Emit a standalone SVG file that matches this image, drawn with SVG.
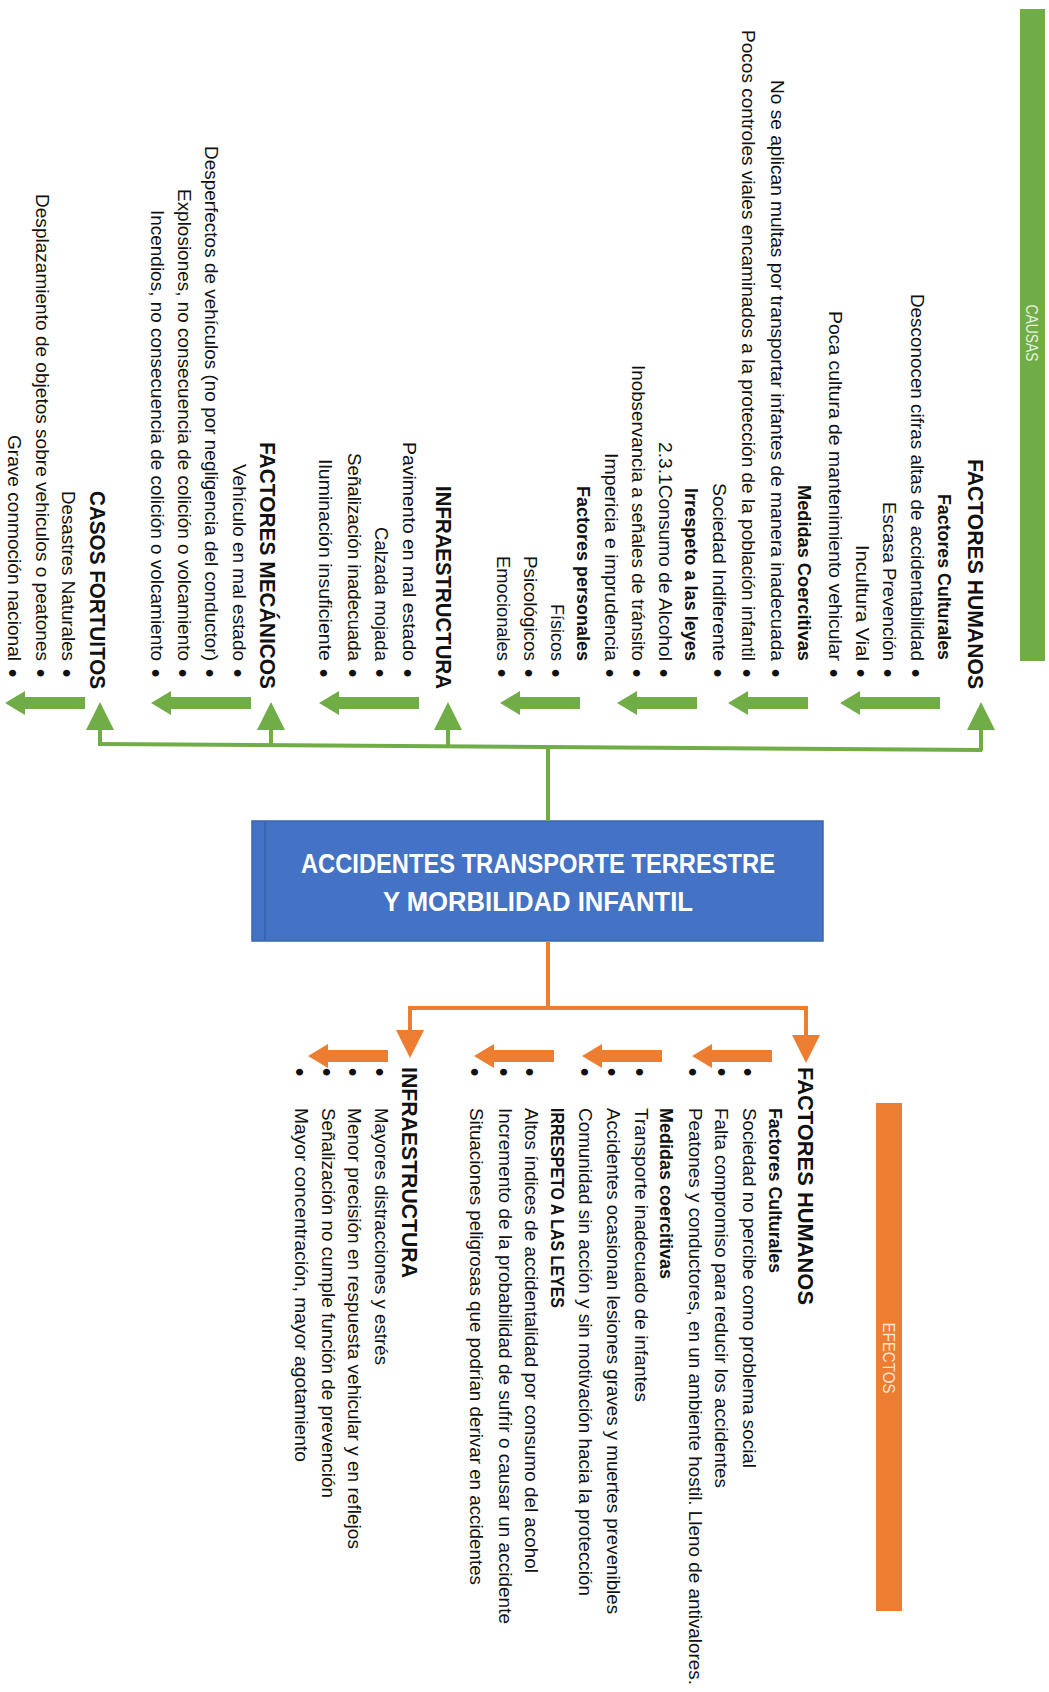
<svg xmlns="http://www.w3.org/2000/svg" width="1049" height="1692" viewBox="0 0 1049 1692">
<style>
.t{font-family:"Liberation Sans",Arial,sans-serif;font-size:18px;fill:#111}
.b{font-weight:bold}
.h{font-size:22px;font-weight:bold}
.bu{font-family:"Liberation Sans",Arial,sans-serif;font-size:25px;fill:#111;text-anchor:middle}
.g{fill:#70AD47}
.o{fill:#ED7D31}
.gl{stroke:#70AD47;stroke-width:4;fill:none}
.ol{stroke:#ED7D31;stroke-width:4;fill:none}
.lab{font-family:"Liberation Sans",Arial,sans-serif;font-size:16px;text-anchor:middle}
.box{font-family:"Liberation Sans",Arial,sans-serif;font-size:27px;font-weight:bold;fill:#fff;text-anchor:middle}
</style>
<defs>
<path id="al100" d="M0,0 L20,-12 L20,-6 L100,-6 L100,6 L20,6 L20,12 Z"/>
<path id="al80" d="M0,0 L20,-12 L20,-6 L80,-6 L80,6 L20,6 L20,12 Z"/>
<path id="up" d="M0,0 L14,28 L-14,28 Z"/>
<path id="dn" d="M0,0 L14,-28 L-14,-28 Z"/>
</defs>
<rect width="1049" height="1692" fill="#fff"/>

<!-- title bars -->
<g id="causas">
<rect x="1020" y="9" width="25" height="652" class="g"/>
<text class="lab" fill="#E8F2E0" transform="translate(1026,333) rotate(90)" textLength="57" lengthAdjust="spacingAndGlyphs">CAUSAS</text>
</g>
<g id="efectos">
<rect x="876" y="1103" width="26" height="508" class="o"/>
<text class="lab" fill="#FCE6D6" transform="translate(883,1358) rotate(90)" textLength="71" lengthAdjust="spacingAndGlyphs">EFECTOS</text>
</g>

<!-- central node -->
<g id="central">
<rect x="252" y="821" width="571" height="120" fill="#4472C4" stroke="#3A64AE" stroke-width="1.5"/>
<line x1="265" y1="822" x2="265" y2="940" stroke="#3A62A8" stroke-width="1.5"/>
<text class="box" x="538" y="873" textLength="474" lengthAdjust="spacingAndGlyphs">ACCIDENTES TRANSPORTE TERRESTRE</text>
<text class="box" x="538" y="911" textLength="310" lengthAdjust="spacingAndGlyphs">Y MORBILIDAD INFANTIL</text>
</g>

<!-- connectors -->
<g id="connectors">
<line class="gl" x1="100" y1="744" x2="982" y2="750"/>
<line class="gl" x1="548" y1="747" x2="548" y2="821"/>
<line class="gl" x1="100" y1="729" x2="100" y2="746"/>
<line class="gl" x1="271" y1="729" x2="271" y2="747"/>
<line class="gl" x1="448" y1="729" x2="448" y2="748"/>
<line class="gl" x1="981" y1="729" x2="981" y2="751"/>
<use href="#up" class="g" x="981" y="702"/>
<use href="#up" class="g" x="448" y="702"/>
<use href="#up" class="g" x="271" y="702"/>
<use href="#up" class="g" x="100" y="702"/>
<use href="#al100" class="g" x="840" y="703"/>
<use href="#al80" class="g" x="728" y="703"/>
<use href="#al80" class="g" x="617" y="703"/>
<use href="#al80" class="g" x="500" y="703"/>
<use href="#al100" class="g" x="319" y="703"/>
<use href="#al100" class="g" x="151" y="703"/>
<use href="#al80" class="g" x="5" y="703"/>

<polyline class="ol" points="548,941 548,1008"/>
<polyline class="ol" points="410,1032 410,1008 806,1008 806,1036"/>
<use href="#dn" class="o" x="410" y="1058"/>
<use href="#dn" class="o" x="806" y="1063"/>
<use href="#al80" class="o" x="692" y="1056"/>
<use href="#al80" class="o" x="582" y="1056"/>
<use href="#al80" class="o" x="474" y="1056"/>
<use href="#al80" class="o" x="308" y="1056"/>
</g>

<!-- CAUSES -->
<g id="causa-factores-humanos">
<text class="t h" transform="translate(968,459) rotate(90)" textLength="230" lengthAdjust="spacingAndGlyphs">FACTORES HUMANOS</text>
<text class="t b" transform="translate(938,494) rotate(90)" textLength="166" lengthAdjust="spacingAndGlyphs">Factores Culturales</text>
<text class="t" transform="translate(911,294) rotate(90)" textLength="367" lengthAdjust="spacingAndGlyphs">Desconocen cifras altas de accidentabilidad</text>
<text class="t" transform="translate(883,502) rotate(90)" textLength="159" lengthAdjust="spacingAndGlyphs">Escasa Prevención</text>
<text class="t" transform="translate(856,545) rotate(90)" textLength="116" lengthAdjust="spacingAndGlyphs">Incultura Vial</text>
<text class="t" transform="translate(829,311) rotate(90)" textLength="350" lengthAdjust="spacingAndGlyphs">Poca cultura de mantenimiento vehicular</text>
<text class="t b" transform="translate(798,485) rotate(90)" textLength="176" lengthAdjust="spacingAndGlyphs">Medidas Coercitivas</text>
<text class="t" transform="translate(771,80) rotate(90)" textLength="581" lengthAdjust="spacingAndGlyphs">No se aplican multas por transportar infantes de manera inadecuada</text>
<text class="t" transform="translate(742,30) rotate(90)" textLength="631" lengthAdjust="spacingAndGlyphs">Pocos controles viales encaminados a la protección de la población infantil</text>
<text class="t" transform="translate(713,483) rotate(90)" textLength="178" lengthAdjust="spacingAndGlyphs">Sociedad Indiferente</text>
<text class="t b" transform="translate(685,488) rotate(90)" textLength="173" lengthAdjust="spacingAndGlyphs">Irrespeto a las leyes</text>
<text class="t" transform="translate(659,442) rotate(90)" textLength="219" lengthAdjust="spacingAndGlyphs">2.3.1Consumo de Alcohol</text>
<text class="t" transform="translate(632,365) rotate(90)" textLength="296" lengthAdjust="spacingAndGlyphs">Inobservancia a señales de tránsito</text>
<text class="t" transform="translate(605,453) rotate(90)" textLength="208" lengthAdjust="spacingAndGlyphs">Impericia e imprudencia</text>
<text class="t b" transform="translate(577,486) rotate(90)" textLength="175" lengthAdjust="spacingAndGlyphs">Factores personales</text>
<text class="t" transform="translate(551,604) rotate(90)" textLength="57" lengthAdjust="spacingAndGlyphs">Físicos</text>
<text class="t" transform="translate(524,556) rotate(90)" textLength="105" lengthAdjust="spacingAndGlyphs">Psicológicos</text>
<text class="t" transform="translate(497,556) rotate(90)" textLength="105" lengthAdjust="spacingAndGlyphs">Emocionales</text>
<text class="bu" transform="translate(907,673) rotate(90)">•</text>
<text class="bu" transform="translate(879,673) rotate(90)">•</text>
<text class="bu" transform="translate(852,673) rotate(90)">•</text>
<text class="bu" transform="translate(825,673) rotate(90)">•</text>
<text class="bu" transform="translate(767,673) rotate(90)">•</text>
<text class="bu" transform="translate(738,673) rotate(90)">•</text>
<text class="bu" transform="translate(709,673) rotate(90)">•</text>
<text class="bu" transform="translate(655,673) rotate(90)">•</text>
<text class="bu" transform="translate(628,673) rotate(90)">•</text>
<text class="bu" transform="translate(601,673) rotate(90)">•</text>
<text class="bu" transform="translate(547,673) rotate(90)">•</text>
<text class="bu" transform="translate(520,673) rotate(90)">•</text>
<text class="bu" transform="translate(493,673) rotate(90)">•</text>
</g>

<g id="causa-infraestructura">
<text class="t h" transform="translate(436,486) rotate(90)" textLength="203" lengthAdjust="spacingAndGlyphs">INFRAESTRUCTURA</text>
<text class="t" transform="translate(403,442) rotate(90)" textLength="219" lengthAdjust="spacingAndGlyphs">Pavimento en mal estado</text>
<text class="t" transform="translate(375,527) rotate(90)" textLength="134" lengthAdjust="spacingAndGlyphs">Calzada mojada</text>
<text class="t" transform="translate(348,453) rotate(90)" textLength="208" lengthAdjust="spacingAndGlyphs">Señalización inadecuada</text>
<text class="t" transform="translate(319,459) rotate(90)" textLength="202" lengthAdjust="spacingAndGlyphs">Iluminación insuficiente</text>
<text class="bu" transform="translate(399,673) rotate(90)">•</text>
<text class="bu" transform="translate(371,673) rotate(90)">•</text>
<text class="bu" transform="translate(344,673) rotate(90)">•</text>
<text class="bu" transform="translate(315,673) rotate(90)">•</text>
</g>

<g id="causa-factores-mecanicos">
<text class="t h" transform="translate(260,442) rotate(90)" textLength="247" lengthAdjust="spacingAndGlyphs">FACTORES MECÁNICOS</text>
<text class="t" transform="translate(233,464) rotate(90)" textLength="197" lengthAdjust="spacingAndGlyphs">Vehículo en mal estado</text>
<text class="t" transform="translate(205,146) rotate(90)" textLength="515" lengthAdjust="spacingAndGlyphs">Desperfectos de vehículos (no por negligencia del conductor)</text>
<text class="t" transform="translate(178,189) rotate(90)" textLength="472" lengthAdjust="spacingAndGlyphs">Explosiones, no consecuencia de colición o volcamiento</text>
<text class="t" transform="translate(151,210) rotate(90)" textLength="451" lengthAdjust="spacingAndGlyphs">Incendios, no consecuencia de colición o volcamiento</text>
<text class="bu" transform="translate(229,673) rotate(90)">•</text>
<text class="bu" transform="translate(201,673) rotate(90)">•</text>
<text class="bu" transform="translate(174,673) rotate(90)">•</text>
<text class="bu" transform="translate(147,673) rotate(90)">•</text>
</g>

<g id="causa-casos-fortuitos">
<text class="t h" transform="translate(90,491) rotate(90)" textLength="198" lengthAdjust="spacingAndGlyphs">CASOS FORTUITOS</text>
<text class="t" transform="translate(62,491) rotate(90)" textLength="170" lengthAdjust="spacingAndGlyphs">Desastres Naturales</text>
<text class="t" transform="translate(36,194) rotate(90)" textLength="467" lengthAdjust="spacingAndGlyphs">Desplazamiento de objetos sobre vehiculos o peatones</text>
<text class="t" transform="translate(8,435) rotate(90)" textLength="226" lengthAdjust="spacingAndGlyphs">Grave conmoción nacional</text>
<text class="bu" transform="translate(58,673) rotate(90)">•</text>
<text class="bu" transform="translate(32,673) rotate(90)">•</text>
<text class="bu" transform="translate(4,673) rotate(90)">•</text>
</g>

<!-- EFFECTS -->
<g id="efecto-factores-humanos">
<text class="t h" transform="translate(798,1067) rotate(90)" textLength="238" lengthAdjust="spacingAndGlyphs">FACTORES HUMANOS</text>
<text class="t b" transform="translate(769,1108) rotate(90)" textLength="165" lengthAdjust="spacingAndGlyphs">Factores Culturales</text>
<text class="t" transform="translate(743,1108) rotate(90)" textLength="360" lengthAdjust="spacingAndGlyphs">Sociedad no percibe como problema social</text>
<text class="t" transform="translate(715,1108) rotate(90)" textLength="380" lengthAdjust="spacingAndGlyphs">Falta compromiso para reducir los accidentes</text>
<text class="t" transform="translate(689,1108) rotate(90)" textLength="577" lengthAdjust="spacingAndGlyphs">Peatones y conductores, en un ambiente hostil. Lleno de antivalores.</text>
<text class="t b" transform="translate(660,1108) rotate(90)" textLength="171" lengthAdjust="spacingAndGlyphs">Medidas coercitivas</text>
<text class="t" transform="translate(635,1108) rotate(90)" textLength="294" lengthAdjust="spacingAndGlyphs">Transporte inadecuado de infantes</text>
<text class="t" transform="translate(607,1108) rotate(90)" textLength="506" lengthAdjust="spacingAndGlyphs">Accidentes ocasionan lesiones graves y muertes prevenibles</text>
<text class="t" transform="translate(579,1108) rotate(90)" textLength="488" lengthAdjust="spacingAndGlyphs">Comunidad sin acción y sin motivación hacia la protección</text>
<text class="t b" transform="translate(551,1108) rotate(90)" textLength="200" lengthAdjust="spacingAndGlyphs">IRRESPETO A LAS LEYES</text>
<text class="t" transform="translate(525,1108) rotate(90)" textLength="465" lengthAdjust="spacingAndGlyphs">Altos índices de accidentalidad por consumo del acohol</text>
<text class="t" transform="translate(499,1108) rotate(90)" textLength="516" lengthAdjust="spacingAndGlyphs">Incremento de la probabilidad de sufrir o causar un accidente</text>
<text class="t" transform="translate(470,1108) rotate(90)" textLength="477" lengthAdjust="spacingAndGlyphs">Situaciones peligrosas que podrían derivar en accidentes</text>
<text class="bu" transform="translate(739,1072) rotate(90)">•</text>
<text class="bu" transform="translate(713,1072) rotate(90)">•</text>
<text class="bu" transform="translate(684,1072) rotate(90)">•</text>
<text class="bu" transform="translate(631,1072) rotate(90)">•</text>
<text class="bu" transform="translate(603,1072) rotate(90)">•</text>
<text class="bu" transform="translate(576,1072) rotate(90)">•</text>
<text class="bu" transform="translate(521,1072) rotate(90)">•</text>
<text class="bu" transform="translate(495,1072) rotate(90)">•</text>
<text class="bu" transform="translate(466,1072) rotate(90)">•</text>
</g>

<g id="efecto-infraestructura">
<text class="t h" transform="translate(402,1067) rotate(90)" textLength="211" lengthAdjust="spacingAndGlyphs">INFRAESTRUCTURA</text>
<text class="t" transform="translate(375,1108) rotate(90)" textLength="257" lengthAdjust="spacingAndGlyphs">Mayores distracciones y estrés</text>
<text class="t" transform="translate(348,1108) rotate(90)" textLength="441" lengthAdjust="spacingAndGlyphs">Menor precisión en respuesta vehicular y en reflejos</text>
<text class="t" transform="translate(322,1108) rotate(90)" textLength="390" lengthAdjust="spacingAndGlyphs">Señalización no cumple función de prevención</text>
<text class="t" transform="translate(295,1108) rotate(90)" textLength="354" lengthAdjust="spacingAndGlyphs">Mayor concentración, mayor agotamiento</text>
<text class="bu" transform="translate(371,1072) rotate(90)">•</text>
<text class="bu" transform="translate(344,1072) rotate(90)">•</text>
<text class="bu" transform="translate(318,1072) rotate(90)">•</text>
<text class="bu" transform="translate(291,1072) rotate(90)">•</text>
</g>
</svg>
